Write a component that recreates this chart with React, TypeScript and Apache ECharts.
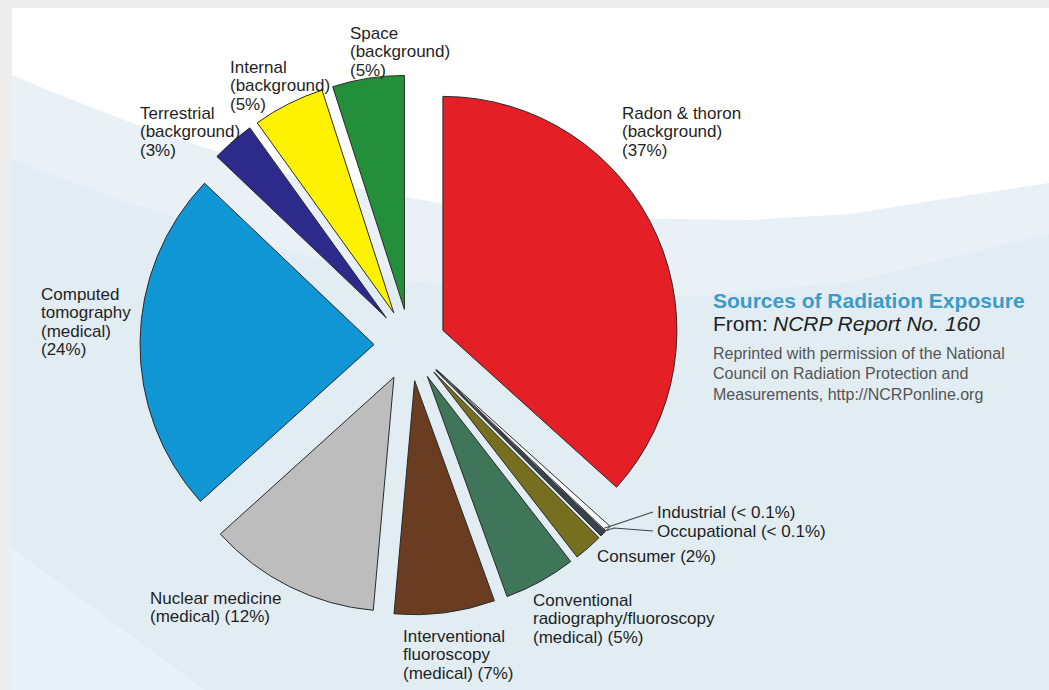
import React, { useEffect, useRef } from "react";
import * as echarts from "echarts";

// ---- data ----
const categories = [
  "Radon & thoron",
  "Industrial",
  "Occupational",
  "Consumer",
  "Conventional radiography/fluoroscopy",
  "Interventional fluoroscopy",
  "Nuclear medicine",
  "Computed tomography",
  "Terrestrial",
  "Internal",
  "Space",
];
const values = [37, 0.1, 0.1, 2, 5, 7, 12, 24, 3, 5, 5];
const labelTexts = [
  "Radon & thoron\n(background)\n(37%)",
  "Industrial (< 0.1%)",
  "Occupational (< 0.1%)",
  "Consumer (2%)",
  "Conventional\nradiography/fluoroscopy\n(medical) (5%)",
  "Interventional\nfluoroscopy\n(medical) (7%)",
  "Nuclear medicine\n(medical) (12%)",
  "Computed\ntomography\n(medical)\n(24%)",
  "Terrestrial\n(background)\n(3%)",
  "Internal\n(background)\n(5%)",
  "Space\n(background)\n(5%)",
];
const colors = [
  "#e41f26",
  "#f6f8fa",
  "#39434d",
  "#756f1f",
  "#3f7659",
  "#6a3d22",
  "#bdbdbd",
  "#1196d5",
  "#2c2b8c",
  "#fff200",
  "#238f3a",
];
// label anchors (top-left of each text block), layout only
const labelAnchors: [number, number][] = [
  [622, 104],
  [657, 503],
  [657, 522],
  [597, 547],
  [533, 591],
  [403, 627],
  [150, 589],
  [41, 285],
  [140, 104],
  [230, 58],
  [350, 24],
];

const titleText = "Sources of Radiation Exposure";
const sourceLead = "From: ";
const sourceName = "NCRP Report No. 160";
const creditLines = [
  "Reprinted with permission of the National",
  "Council on Radiation Protection and",
  "Measurements, http://NCRPonline.org",
];

const CX = 410;
const CY = 345;
const R = 234;
const OFFSET = 36;

export default function App() {
  const ref = useRef<HTMLDivElement>(null);
  useEffect(() => {
    if (!ref.current) return;
    const chart = echarts.init(ref.current, null, { renderer: "svg" });
    const font = "'Liberation Sans', Arial, Helvetica, sans-serif";

    // leader lines for the two tiny slices, from each slice's outer tip
    const total = values.reduce((a, b) => a + b, 0);
    const cumBefore = values.map((_, i) => values.slice(0, i).reduce((a, b) => a + b, 0));
    const tip = (i: number): [number, number] => {
      const th = ((cumBefore[i] + values[i] / 2) / total) * 2 * Math.PI + (i === 1 ? 0.004 : 0.02);
      const d = R + OFFSET - 3;
      return [CX + d * Math.sin(th), CY - d * Math.cos(th)];
    };
    const leaderFor = (i: number, bend: boolean) => {
      const t = tip(i);
      const a = labelAnchors[i];
      const endY = a[1] + 9;
      const pts = bend
        ? [t, [t[0] + 14, endY - 3], [a[0] - 4, endY]]
        : [t, [a[0] - 4, endY]];
      return {
        type: "polyline", z: 50, silent: true,
        shape: { points: pts },
        style: { stroke: "#3a4650", lineWidth: 1.2, fill: null },
      };
    };

    const labelEls = labelTexts.map((t, i) => ({
      type: "text", z: 60, silent: true,
      left: labelAnchors[i][0], top: labelAnchors[i][1],
      style: { text: t, font: `17px ${font}`, lineHeight: 18.5, fill: "#1f1f1f" },
    }));

    chart.setOption({
      animation: false,
      backgroundColor: "#ededed",
      graphic: [
        { type: "rect", z: -10, silent: true, shape: { x: 12, y: 8, width: 1037, height: 682 }, style: { fill: "#e1edf3" } },
        {
          type: "polygon", z: -9, silent: true,
          shape: { points: [[12, 548], [12, 690], [205, 690]] },
          style: { fill: "#e9f1f8" },
        },
        {
          type: "polygon", z: -9, silent: true,
          shape: {
            points: [[12, 8], [1049, 8], [1049, 234], [950, 258], [850, 282], [700, 296], [550, 296], [400, 280], [250, 240], [120, 200], [12, 160]],
          },
          style: { fill: "#e9f0f6" },
        },
        {
          type: "polygon", z: -8, silent: true,
          shape: {
            points: [[12, 8], [1049, 8], [1049, 183], [950, 198], [850, 214], [750, 220], [600, 218], [450, 205], [300, 178], [150, 130], [60, 95], [12, 75]],
          },
          style: { fill: "#ffffff" },
        },
        ...labelEls,
        leaderFor(1, false),
        leaderFor(2, true),
        {
          type: "text", z: 100, left: 713, top: 290,
          style: { text: titleText, font: `bold 21px ${font}`, fill: "#3b9bc9" },
        },
        {
          type: "group", z: 100, left: 713, top: 313,
          children: [
            { type: "text", style: { text: sourceLead, font: `21px ${font}`, fill: "#222222" } },
            { type: "text", x: 60, style: { text: sourceName, font: `italic 21px ${font}`, fill: "#222222" } },
          ],
        },
        {
          type: "text", z: 100, left: 713, top: 343,
          style: { text: creditLines.join("\n"), font: `16px ${font}`, lineHeight: 20.5, fill: "#555555" },
        },
      ],
      series: [
        {
          type: "pie",
          center: [CX, CY],
          radius: R,
          startAngle: 90,
          clockwise: true,
          selectedMode: "multiple",
          selectedOffset: OFFSET,
          minAngle: 1.5,
          avoidLabelOverlap: false,
          silent: true,
          emphasis: { disabled: true },
          itemStyle: { borderColor: "#2a2a2a", borderWidth: 1 },
          label: { show: false },
          labelLine: { show: false },
          data: categories.map((name, i) => ({
            name,
            value: values[i],
            selected: true,
            itemStyle: { color: colors[i] },
          })),
        },
      ],
    });
    return () => chart.dispose();
  }, []);
  return (
    <div
      ref={ref}
      style={{ position: "fixed", left: 0, top: 0, width: 1049, height: 690 }}
    />
  );
}
